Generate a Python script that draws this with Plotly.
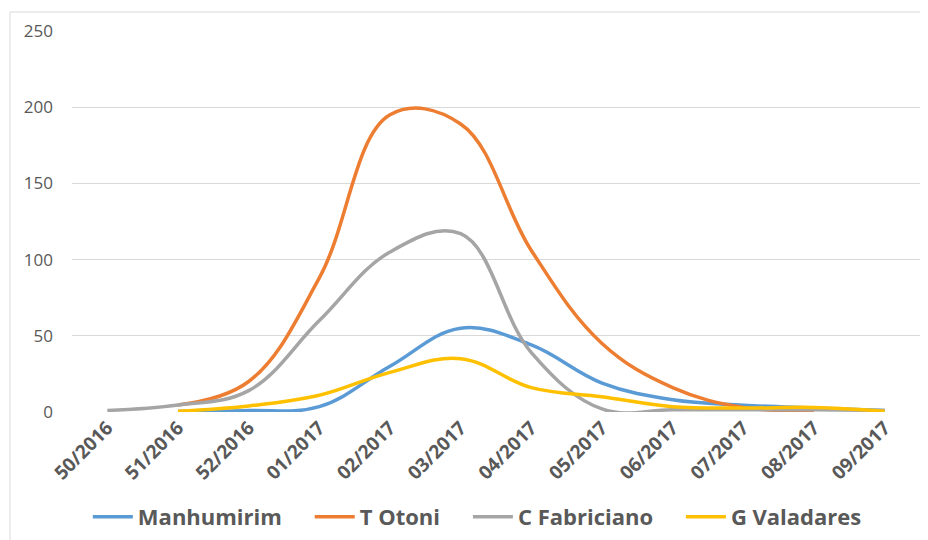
import plotly.graph_objects as go

weeks = ["50/2016", "51/2016", "52/2016", "01/2017", "02/2017", "03/2017",
         "04/2017", "05/2017", "06/2017", "07/2017", "08/2017", "09/2017"]

manhumirim = [None, 0.5, 1, 3.5, 30, 55, 44, 19, 8, 4.5, 2.6, 1]
t_otoni = [None, 4.6, 20, 88, 195, 189, 106, 45, 16, 3, 1, None]
c_fabriciano = [1, 4.6, 14, 60, 105, 117, 39, 2, 1.5, 1.5, 1.5, 1]
g_valadares = [None, 0.5, 4, 11, 26, 35, 16, 10, 3.5, 2.6, 3, 0.5]

PAD = "\u00a0" * 4
series = [
    ("Manhumirim", manhumirim, "#5B9BD5", PAD),
    ("T Otoni", t_otoni, "#ED7D31", PAD),
    ("C Fabriciano", c_fabriciano, "#A5A5A5", PAD),
    ("G Valadares", g_valadares, "#FFC000", ""),
]

fig = go.Figure()
for name, vals, color, pad in series:
    fig.add_trace(go.Scatter(
        x=weeks, y=vals, name=name + pad, mode="lines",
        line=dict(color=color, width=3.5, shape="spline", smoothing=1.1),
    ))

font_family = "Open Sans"
# page body has an 8px default margin, so the figure is 8px smaller than the window
fig.update_layout(
    width=920, height=532,
    margin=dict(l=64, r=8, t=23, b=128, autoexpand=False),
    paper_bgcolor="white", plot_bgcolor="white",
    showlegend=True,
    legend=dict(orientation="h", x=0.478, xanchor="center", y=-0.2756, yanchor="middle",
                font=dict(family=font_family, size=22, color="#595959", weight="bold"),
                itemwidth=40, tracegroupgap=0),
    xaxis=dict(type="category", range=[-0.5, 11.5], showgrid=False, zeroline=False,
               showline=False, ticks="", tickangle=-45, automargin=False,
               tickfont=dict(family=font_family, size=19, color="#595959", weight="bold")),
    yaxis=dict(range=[0, 250], tickvals=[0, 50, 100, 150, 200, 250], showgrid=True,
               gridcolor="#d9d9d9", gridwidth=1, zeroline=False, showline=False,
               ticks="", ticklabelstandoff=18, automargin=False,
               tickfont=dict(family=font_family, size=17, color="#595959")),
    shapes=[dict(type="rect", xref="paper", yref="paper",
                 x0=(2 - 64) / 848, x1=1.2, y0=-0.5, y1=400 / 381,
                 line=dict(color="#d9d9d9", width=1), fillcolor="rgba(0,0,0,0)",
                 layer="below")],
)

fig.write_html("out.html")
